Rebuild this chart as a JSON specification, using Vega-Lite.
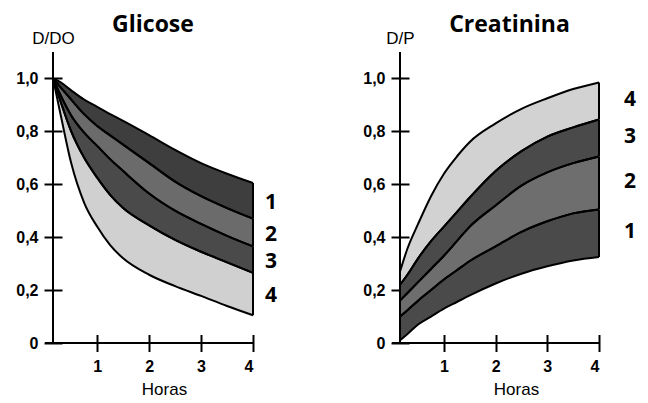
{
  "$schema": "https://vega.github.io/schema/vega-lite/v6.json",
  "padding": {"left": 15, "top": 14, "right": 5, "bottom": 5},
  "bounds": "flush",
  "spacing": 147,
  "datasets": {
    "glicose": [
      {"band": "1", "h": 0.15, "hi": 1.0, "lo": 1.0}, {"band": "1", "h": 0.3, "hi": 0.985, "lo": 0.965}, {"band": "1", "h": 0.5, "hi": 0.955, "lo": 0.92}, {"band": "1", "h": 0.75, "hi": 0.92, "lo": 0.865}, {"band": "1", "h": 1, "hi": 0.893, "lo": 0.82}, {"band": "1", "h": 1.25, "hi": 0.865, "lo": 0.785}, {"band": "1", "h": 1.5, "hi": 0.84, "lo": 0.75}, {"band": "1", "h": 2, "hi": 0.786, "lo": 0.68}, {"band": "1", "h": 2.5, "hi": 0.73, "lo": 0.61}, {"band": "1", "h": 3, "hi": 0.68, "lo": 0.555}, {"band": "1", "h": 3.5, "hi": 0.64, "lo": 0.51}, {"band": "1", "h": 4, "hi": 0.605, "lo": 0.47},
      {"band": "2", "h": 0.15, "hi": 1.0, "lo": 1.0}, {"band": "2", "h": 0.3, "hi": 0.965, "lo": 0.935}, {"band": "2", "h": 0.5, "hi": 0.92, "lo": 0.86}, {"band": "2", "h": 0.75, "hi": 0.865, "lo": 0.795}, {"band": "2", "h": 1, "hi": 0.82, "lo": 0.745}, {"band": "2", "h": 1.25, "hi": 0.785, "lo": 0.695}, {"band": "2", "h": 1.5, "hi": 0.75, "lo": 0.65}, {"band": "2", "h": 2, "hi": 0.68, "lo": 0.565}, {"band": "2", "h": 2.5, "hi": 0.61, "lo": 0.5}, {"band": "2", "h": 3, "hi": 0.555, "lo": 0.45}, {"band": "2", "h": 3.5, "hi": 0.51, "lo": 0.405}, {"band": "2", "h": 4, "hi": 0.47, "lo": 0.365},
      {"band": "3", "h": 0.15, "hi": 1.0, "lo": 1.0}, {"band": "3", "h": 0.3, "hi": 0.935, "lo": 0.91}, {"band": "3", "h": 0.5, "hi": 0.86, "lo": 0.8}, {"band": "3", "h": 0.75, "hi": 0.795, "lo": 0.7}, {"band": "3", "h": 1, "hi": 0.745, "lo": 0.625}, {"band": "3", "h": 1.25, "hi": 0.695, "lo": 0.56}, {"band": "3", "h": 1.5, "hi": 0.65, "lo": 0.51}, {"band": "3", "h": 2, "hi": 0.565, "lo": 0.445}, {"band": "3", "h": 2.5, "hi": 0.5, "lo": 0.39}, {"band": "3", "h": 3, "hi": 0.45, "lo": 0.345}, {"band": "3", "h": 3.5, "hi": 0.405, "lo": 0.305}, {"band": "3", "h": 4, "hi": 0.365, "lo": 0.265},
      {"band": "4", "h": 0.15, "hi": 1.0, "lo": 1.0}, {"band": "4", "h": 0.3, "hi": 0.91, "lo": 0.86}, {"band": "4", "h": 0.5, "hi": 0.8, "lo": 0.68}, {"band": "4", "h": 0.75, "hi": 0.7, "lo": 0.53}, {"band": "4", "h": 1, "hi": 0.625, "lo": 0.44}, {"band": "4", "h": 1.25, "hi": 0.56, "lo": 0.37}, {"band": "4", "h": 1.5, "hi": 0.51, "lo": 0.32}, {"band": "4", "h": 2, "hi": 0.445, "lo": 0.258}, {"band": "4", "h": 2.5, "hi": 0.39, "lo": 0.215}, {"band": "4", "h": 3, "hi": 0.345, "lo": 0.178}, {"band": "4", "h": 3.5, "hi": 0.305, "lo": 0.14}, {"band": "4", "h": 4, "hi": 0.265, "lo": 0.105}
    ],
    "creatinina": [
      {"band": "4", "h": 0.15, "hi": 0.27, "lo": 0.22}, {"band": "4", "h": 0.3, "hi": 0.36, "lo": 0.26}, {"band": "4", "h": 0.5, "hi": 0.45, "lo": 0.32}, {"band": "4", "h": 0.75, "hi": 0.555, "lo": 0.385}, {"band": "4", "h": 1, "hi": 0.64, "lo": 0.44}, {"band": "4", "h": 1.25, "hi": 0.705, "lo": 0.495}, {"band": "4", "h": 1.5, "hi": 0.76, "lo": 0.55}, {"band": "4", "h": 2, "hi": 0.83, "lo": 0.65}, {"band": "4", "h": 2.5, "hi": 0.885, "lo": 0.725}, {"band": "4", "h": 3, "hi": 0.925, "lo": 0.78}, {"band": "4", "h": 3.5, "hi": 0.96, "lo": 0.815}, {"band": "4", "h": 4, "hi": 0.985, "lo": 0.845},
      {"band": "3", "h": 0.15, "hi": 0.22, "lo": 0.16}, {"band": "3", "h": 0.3, "hi": 0.26, "lo": 0.19}, {"band": "3", "h": 0.5, "hi": 0.32, "lo": 0.23}, {"band": "3", "h": 0.75, "hi": 0.385, "lo": 0.28}, {"band": "3", "h": 1, "hi": 0.44, "lo": 0.33}, {"band": "3", "h": 1.25, "hi": 0.495, "lo": 0.385}, {"band": "3", "h": 1.5, "hi": 0.55, "lo": 0.44}, {"band": "3", "h": 2, "hi": 0.65, "lo": 0.52}, {"band": "3", "h": 2.5, "hi": 0.725, "lo": 0.595}, {"band": "3", "h": 3, "hi": 0.78, "lo": 0.645}, {"band": "3", "h": 3.5, "hi": 0.815, "lo": 0.68}, {"band": "3", "h": 4, "hi": 0.845, "lo": 0.705},
      {"band": "2", "h": 0.15, "hi": 0.16, "lo": 0.1}, {"band": "2", "h": 0.3, "hi": 0.19, "lo": 0.125}, {"band": "2", "h": 0.5, "hi": 0.23, "lo": 0.16}, {"band": "2", "h": 0.75, "hi": 0.28, "lo": 0.2}, {"band": "2", "h": 1, "hi": 0.33, "lo": 0.24}, {"band": "2", "h": 1.25, "hi": 0.385, "lo": 0.275}, {"band": "2", "h": 1.5, "hi": 0.44, "lo": 0.31}, {"band": "2", "h": 2, "hi": 0.52, "lo": 0.365}, {"band": "2", "h": 2.5, "hi": 0.595, "lo": 0.42}, {"band": "2", "h": 3, "hi": 0.645, "lo": 0.46}, {"band": "2", "h": 3.5, "hi": 0.68, "lo": 0.49}, {"band": "2", "h": 4, "hi": 0.705, "lo": 0.505},
      {"band": "1", "h": 0.15, "hi": 0.1, "lo": 0.01}, {"band": "1", "h": 0.3, "hi": 0.125, "lo": 0.035}, {"band": "1", "h": 0.5, "hi": 0.16, "lo": 0.07}, {"band": "1", "h": 0.75, "hi": 0.2, "lo": 0.1}, {"band": "1", "h": 1, "hi": 0.24, "lo": 0.13}, {"band": "1", "h": 1.25, "hi": 0.275, "lo": 0.155}, {"band": "1", "h": 1.5, "hi": 0.31, "lo": 0.18}, {"band": "1", "h": 2, "hi": 0.365, "lo": 0.225}, {"band": "1", "h": 2.5, "hi": 0.42, "lo": 0.262}, {"band": "1", "h": 3, "hi": 0.46, "lo": 0.29}, {"band": "1", "h": 3.5, "hi": 0.49, "lo": 0.312}, {"band": "1", "h": 4, "hi": 0.505, "lo": 0.325}
    ]
  },
  "hconcat": [
    {
      "width": 200,
      "height": 291,
      "title": {"text": "Glicose", "anchor": "middle", "offset": -8},
      "data": {"name": "glicose"},
      "layer": [
        {
          "mark": {"type": "area", "interpolate": "monotone"},
          "encoding": {
            "x": {"field": "h", "type": "quantitative", "scale": {"domain": [0.15, 4], "nice": false, "zero": false},
              "axis": {"values": [1, 2, 3, 4], "format": "d", "offset": -8.5, "tickSize": 17, "labelPadding": 7, "title": "Horas", "titleX": 111, "titleY": 55, "titleBaseline": "middle", "titleAlign": "center"}},
            "y": {"field": "hi", "type": "quantitative", "stack": null, "scale": {"domain": [0, 1.1], "nice": false},
              "axis": {"values": [0, 0.1, 0.2, 0.3, 0.4, 0.5, 0.6, 0.7, 0.8, 0.9, 1.0, 1.1], "offset": -9, "tickSize": 18, "labelPadding": 6,
                "labelExpr": "datum.value == 0 ? '0' : (round(datum.value*10) % 2 == 0 ? replace(format(datum.value, '.1f'), '.', ',') : '')",
                "title": "D/DO", "titleAngle": 0, "titleAlign": "center", "titleBaseline": "bottom", "titleX": -9, "titleY": -5}},
            "y2": {"field": "lo"},
            "color": {"field": "band", "type": "nominal", "scale": {"domain": ["1", "2", "3", "4"], "range": ["#3e3e3e", "#6b6b6b", "#4a4a4a", "#d0d0d0"]}, "legend": null}
          }
        },
        {
          "mark": {"type": "line", "interpolate": "monotone", "color": "#000", "strokeWidth": 2},
          "encoding": {"x": {"field": "h", "type": "quantitative"}, "y": {"field": "hi", "type": "quantitative"}, "detail": {"field": "band"}}
        },
        {
          "mark": {"type": "line", "interpolate": "monotone", "color": "#000", "strokeWidth": 2},
          "encoding": {"x": {"field": "h", "type": "quantitative"}, "y": {"field": "lo", "type": "quantitative"}, "detail": {"field": "band"}}
        },
        {
          "transform": [{"filter": "datum.h == 4"}],
          "mark": {"type": "rule", "color": "#000", "strokeWidth": 2},
          "encoding": {"x": {"field": "h", "type": "quantitative"}, "y": {"field": "lo", "type": "quantitative"}, "y2": {"field": "hi"}}
        },
        {
          "mark": {"type": "rule", "color": "#000", "strokeWidth": 2},
          "encoding": {"x": {"datum": 0.15}, "y": {"datum": 0}, "y2": {"datum": 1.1}}
        },
        {
          "mark": {"type": "rule", "color": "#000", "strokeWidth": 2},
          "encoding": {"y": {"datum": 0}, "x": {"datum": 0}, "x2": {"datum": 4}}
        },
        {
          "transform": [{"filter": "datum.h == 4"}, {"calculate": "(datum.lo + datum.hi) / 2", "as": "mid"}],
          "mark": {"type": "text", "font": "Open Sans", "fontSize": 21, "fontWeight": "bold", "color": "#000", "align": "center", "baseline": "middle", "dx": 18, "dy": 2},
          "encoding": {"x": {"field": "h", "type": "quantitative"}, "y": {"field": "mid", "type": "quantitative"}, "text": {"field": "band"}}
        }
      ]
    },
    {
      "width": 199,
      "height": 291,
      "title": {"text": "Creatinina", "anchor": "middle", "offset": -8, "dx": 10},
      "data": {"name": "creatinina"},
      "layer": [
        {
          "mark": {"type": "area", "interpolate": "monotone"},
          "encoding": {
            "x": {"field": "h", "type": "quantitative", "scale": {"domain": [0.15, 4], "nice": false, "zero": false},
              "axis": {"values": [1, 2, 3, 4], "format": "d", "offset": -8.5, "tickSize": 17, "labelPadding": 7, "title": "Horas", "titleX": 116, "titleY": 55, "titleBaseline": "middle", "titleAlign": "center"}},
            "y": {"field": "hi", "type": "quantitative", "stack": null, "scale": {"domain": [0, 1.1], "nice": false},
              "axis": {"values": [0, 0.1, 0.2, 0.3, 0.4, 0.5, 0.6, 0.7, 0.8, 0.9, 1.0, 1.1], "offset": -9, "tickSize": 18, "labelPadding": 6,
                "labelExpr": "datum.value == 0 ? '0' : (round(datum.value*10) % 2 == 0 ? replace(format(datum.value, '.1f'), '.', ',') : '')",
                "title": "D/P", "titleAngle": 0, "titleAlign": "center", "titleBaseline": "bottom", "titleX": -9, "titleY": -5}},
            "y2": {"field": "lo"},
            "color": {"field": "band", "type": "nominal", "scale": {"domain": ["1", "2", "3", "4"], "range": ["#4a4a4a", "#6e6e6e", "#4a4a4a", "#d2d2d2"]}, "legend": null}
          }
        },
        {
          "mark": {"type": "line", "interpolate": "monotone", "color": "#000", "strokeWidth": 2},
          "encoding": {"x": {"field": "h", "type": "quantitative"}, "y": {"field": "hi", "type": "quantitative"}, "detail": {"field": "band"}}
        },
        {
          "mark": {"type": "line", "interpolate": "monotone", "color": "#000", "strokeWidth": 2},
          "encoding": {"x": {"field": "h", "type": "quantitative"}, "y": {"field": "lo", "type": "quantitative"}, "detail": {"field": "band"}}
        },
        {
          "transform": [{"filter": "datum.h == 4"}],
          "mark": {"type": "rule", "color": "#000", "strokeWidth": 2},
          "encoding": {"x": {"field": "h", "type": "quantitative"}, "y": {"field": "lo", "type": "quantitative"}, "y2": {"field": "hi"}}
        },
        {
          "mark": {"type": "rule", "color": "#000", "strokeWidth": 2},
          "encoding": {"x": {"datum": 0.15}, "y": {"datum": 0}, "y2": {"datum": 1.1}}
        },
        {
          "mark": {"type": "rule", "color": "#000", "strokeWidth": 2},
          "encoding": {"y": {"datum": 0}, "x": {"datum": 0}, "x2": {"datum": 4}}
        },
        {
          "transform": [{"filter": "datum.h == 4"}, {"calculate": "(datum.lo + datum.hi) / 2", "as": "mid"}],
          "mark": {"type": "text", "font": "Open Sans", "fontSize": 21, "fontWeight": "bold", "color": "#000", "align": "center", "baseline": "middle", "dx": 31, "dy": -1},
          "encoding": {"x": {"field": "h", "type": "quantitative"}, "y": {"field": "mid", "type": "quantitative"}, "text": {"field": "band"}}
        }
      ]
    }
  ],
  "resolve": {"scale": {"color": "independent"}},
  "config": {
    "view": {"stroke": null},
    "axis": {"domain": false, "grid": false, "tickColor": "#000", "tickWidth": 2, "labelColor": "#000", "labelFont": "Liberation Sans", "labelFontSize": 16, "labelFontWeight": "bold", "titleFont": "Liberation Sans", "titleFontSize": 17, "titleFontWeight": "normal", "titleColor": "#000"},
    "title": {"font": "Open Sans", "fontSize": 23, "fontWeight": "bold", "color": "#000"}
  }
}
